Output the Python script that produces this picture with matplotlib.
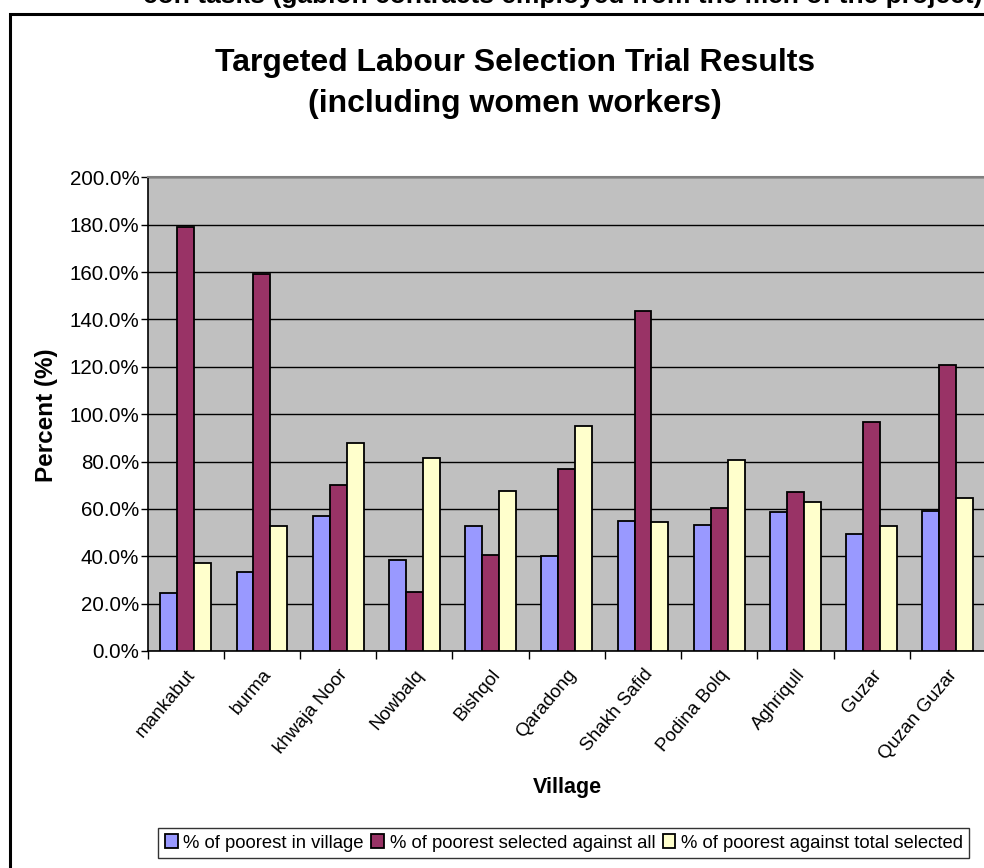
import numpy as np
import matplotlib.pyplot as plt
from matplotlib.patches import Rectangle
from matplotlib.ticker import FuncFormatter, FixedLocator

plt.rcParams['font.family'] = ['Liberation Sans', 'DejaVu Sans']

# datos
villages = ["mankabut", "burma", "khwaja Noor", "Nowbalq", "Bishqol", "Qaradong",
            "Shakh Safid", "Podina Bolq", "Aghriqull", "Guzar", "Quzan Guzar"]
pct_poorest_village = [24.3, 33.4, 57.0, 38.5, 52.8, 40.0, 55.0, 53.4, 58.5, 49.2, 59.3]
pct_selected_all = [179.0, 159.3, 70.0, 24.9, 40.6, 76.9, 143.5, 60.5, 67.0, 96.9, 120.7]
pct_total_selected = [37.1, 52.8, 87.8, 81.4, 67.7, 94.8, 54.3, 80.5, 62.8, 52.8, 64.7]

series = [
    ("% of poorest in village", pct_poorest_village, "#9999FF"),
    ("% of poorest selected against all", pct_selected_all, "#993366"),
    ("% of poorest against total selected", pct_total_selected, "#FFFFCC"),
]

fig = plt.figure(figsize=(9.84, 8.68), dpi=100)
ax = fig.add_axes([0.150, 0.250, 0.852, 0.5457])
ax.set_facecolor("#C0C0C0")

x = np.arange(len(villages))
w = 1 / 4.5
for i, (name, vals, col) in enumerate(series):
    ax.bar(x + (i - 1) * w, vals, width=w, color=col, edgecolor="black",
           linewidth=1.3, label=name, zorder=3)

ax.set_xlim(-0.5, len(villages) - 0.5)
ax.set_ylim(0, 200)
ax.set_yticks(np.arange(0, 201, 20))
ax.yaxis.set_major_formatter(FuncFormatter(lambda v, p: f"{v:.1f}%"))
ax.yaxis.grid(True, color="black", linewidth=1.0, zorder=1)
ax.tick_params(axis="y", direction="out", length=5, width=1, labelsize=14.8, pad=1)

# ticks entre grupos, etiquetas en el centro
ax.xaxis.set_major_locator(FixedLocator(np.arange(-0.5, len(villages), 1)))
ax.set_xticklabels([])
ax.set_xticks(x, minor=True)
ax.set_xticklabels(villages, minor=True, rotation=50, ha="right",
                   rotation_mode="anchor", fontsize=13.5)
ax.tick_params(axis="x", which="major", direction="out", length=6, width=1)
ax.tick_params(axis="x", which="minor", length=0, pad=11)

for s in ["left", "bottom"]:
    ax.spines[s].set_color("black")
    ax.spines[s].set_linewidth(1.2)
for s in ["top", "right"]:
    ax.spines[s].set_color("#808080")
    ax.spines[s].set_linewidth(1.5)

fig.text(0.047, 0.522, "Percent (%)", rotation=90, ha="center", va="center",
         fontsize=17.5, fontweight="bold")
fig.text(0.577, 0.093, "Village", ha="center", va="center",
         fontsize=15.5, fontweight="bold")

fig.text(0.523, 0.904, "Targeted Labour Selection Trial Results\n(including women workers)",
         ha="center", va="center", fontsize=23, fontweight="bold", linespacing=1.45)

# texto cortado arriba
fig.text(0.998, 1 - 3 / 868, "con tasks (gabion contracts employed from the men of the project)",
         ha="right", va="baseline", fontsize=19, fontweight="bold")

# marco exterior del grafico
fig.patches.append(Rectangle((0.0105, -0.05), 1.1, 0.05 + 1 - 14.5 / 868,
                             transform=fig.transFigure, fill=False,
                             edgecolor="black", linewidth=2.2, clip_on=False))

leg = fig.legend(loc="center", bbox_to_anchor=(0.573, 0.029), ncol=3, fontsize=13.3,
                 frameon=True, fancybox=False, edgecolor="black", handlelength=0.7,
                 handleheight=0.8, handletextpad=0.3, columnspacing=0.4,
                 borderpad=0.35, borderaxespad=0)
leg.get_frame().set_linewidth(1.0)

fig.savefig("out.png", dpi=100)
